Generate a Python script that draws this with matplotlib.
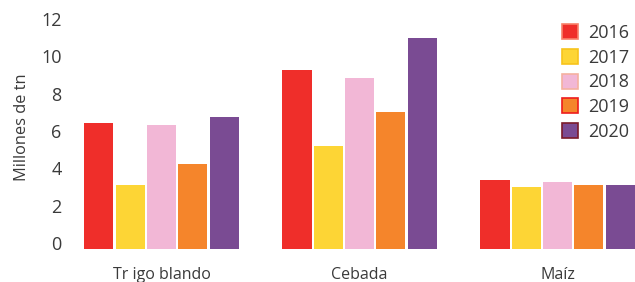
import numpy as np
import matplotlib.pyplot as plt
from matplotlib.patches import Patch

# datos (millones de toneladas)
cultivos = ['Tr igo blando', 'Cebada', 'Maíz']
anios = ['2016', '2017', '2018', '2019', '2020']
v2016 = [6.43, 9.27, 3.37]
v2017 = [3.11, 5.20, 3.00]
v2018 = [6.32, 8.84, 3.27]
v2019 = [4.23, 7.02, 3.11]
v2020 = [6.75, 10.98, 3.11]
series = [v2016, v2017, v2018, v2019, v2020]

colores = ['#ef2e2a', '#fdd535', '#f2b7d6', '#f5852b', '#7a4b93']
bordes = ['#f8826a', '#f7c31c', '#f5b0a0', '#ee1c1c', '#7c1a2a']
texto = '#3a3a3a'

plt.rcParams['font.family'] = ['Open Sans', 'DejaVu Sans']

fig = plt.figure(figsize=(6.35, 2.82), dpi=100)
ax = fig.add_axes([70 / 635, 33 / 282, 565 / 635, 244 / 282])

base = -0.32   # las barras bajan un poco por debajo del 0
paso = 0.158
ancho = 0.147
x = np.arange(len(cultivos))
for i, (vals, c) in enumerate(zip(series, colores)):
    pos = x + (i - 2) * paso
    ax.bar(pos, np.array(vals) - base, bottom=base, width=ancho, color=c, linewidth=0)

ax.set_xlim(-0.462, 2.391)
ax.set_ylim(base, 12.75)
ax.set_yticks(range(0, 13, 2))
ax.set_xticks(x)
ax.set_xticklabels(cultivos)
ax.tick_params(length=0, labelcolor=texto)
ax.tick_params(axis='y', pad=6, labelsize=13)
ax.tick_params(axis='x', pad=13, labelsize=11.5)
for s in ax.spines.values():
    s.set_visible(False)

ax.set_ylabel('Millones de tn', fontsize=11.8, color=texto, labelpad=8)

handles = [Patch(facecolor=c, edgecolor=b, linewidth=1.2) for c, b in zip(colores, bordes)]
leg = ax.legend(handles, anios, loc='upper left', bbox_to_anchor=(562 / 635, 1 - 24 / 282),
                bbox_transform=fig.transFigure, frameon=False, fontsize=13,
                handlelength=0.9, handleheight=0.9, handletextpad=0.55,
                labelspacing=0.37, borderpad=0, borderaxespad=0, labelcolor=texto)

fig.savefig('out.png', dpi=100)
